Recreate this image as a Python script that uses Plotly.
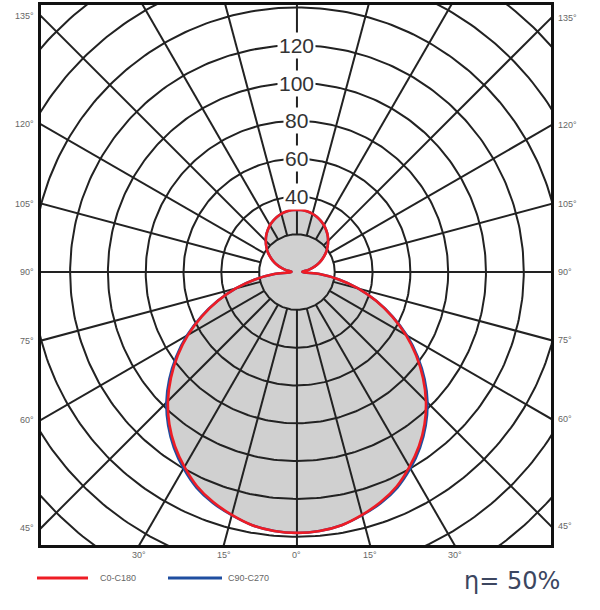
import numpy as np
import plotly.graph_objects as go

# ---------------- data ----------------
gamma = list(range(0, 181, 5))  # degrees from nadir
c0_c180 = [138, 137.5, 136, 133, 129.5, 125, 119, 112.5, 105, 96.5, 87, 77, 66.5, 55.5, 44.5, 33.5, 22.5, 12, 3,
           3, 5.8, 8.5, 11.3, 14, 16.5, 19, 21.2, 23.3, 25.3, 27, 28.6, 29.9, 31, 31.9, 32.5, 32.9, 33]
c90_c270 = [138, 137.5, 136, 133.2, 130, 125.8, 120, 113.5, 106, 97.7, 88.2, 78, 67.3, 56, 44.8, 33.7, 22.6, 12, 3,
            3, 5.8, 8.5, 11.3, 14, 16.5, 19, 21.2, 23.3, 25.3, 27, 28.6, 29.9, 31, 31.9, 32.5, 32.9, 33]
ring_values = [20, 40, 60, 80, 100, 120, 140, 160, 180]
ring_labels = [40, 60, 80, 100, 120]
spoke_angles = list(range(0, 360, 15))
side_labels = [45, 60, 75, 90, 105, 120, 135]
bottom_labels = [0, 15, 30]
legend_names = ["C0-C180", "C90-C270"]
efficiency = "η= 50%"

RED = "#ee1c25"
BLUE = "#1f4ea0"
GRID = "#222222"
FILL = "#d0d0d0"

XMIN, XMAX = -135.4, 134.4
YMIN, YMAX = -144.4, 141.3

L, R, T, B = 41, 49, 5, 65
W, H = 600, 610
PW, PH = W - L - R, H - T - B


def px(xp):
    return (xp - L) / PW


def py(yp):
    return (H - B - yp) / PH


def closed_curve(vals):
    g = np.radians(np.array(gamma, dtype=float))
    r = np.array(vals, dtype=float)
    xr, yr = r * np.sin(g), -r * np.cos(g)
    xs = np.concatenate([xr, -xr[::-1]])
    ys = np.concatenate([yr, yr[::-1]])
    return xs, ys


fig = go.Figure()

fx, fy = closed_curve(c0_c180)
fx2, fy2 = closed_curve(c90_c270)
fig.add_trace(go.Scatter(x=fx2, y=fy2, fill="toself", fillcolor=FILL, mode="none",
                         line=dict(shape="spline", smoothing=0.8),
                         hoverinfo="skip", showlegend=False))

# grid
gx, gy = [], []
t = np.linspace(0, 2 * np.pi, 361)
for rv in ring_values:
    gx += list(rv * np.cos(t)) + [None]
    gy += list(rv * np.sin(t)) + [None]
for a in spoke_angles:
    ar = np.radians(a)
    gx += [20 * np.sin(ar), 260 * np.sin(ar), None]
    gy += [-20 * np.cos(ar), -260 * np.cos(ar), None]
fig.add_trace(go.Scatter(x=gx, y=gy, mode="lines", line=dict(color=GRID, width=2),
                         hoverinfo="skip", showlegend=False))

# curves
fig.add_trace(go.Scatter(x=fx2, y=fy2, mode="lines",
                         line=dict(color=BLUE, width=2.5, shape="spline", smoothing=0.8),
                         name=legend_names[1], showlegend=False))
fig.add_trace(go.Scatter(x=fx, y=fy, mode="lines",
                         line=dict(color=RED, width=2.6, shape="spline", smoothing=0.8),
                         name=legend_names[0], showlegend=False))

ann = []
for rv in ring_labels:
    ann.append(dict(x=0, y=rv, text=str(rv), showarrow=False, bgcolor="white",
                    font=dict(family="Liberation Sans", size=21, color="#333"),
                    xanchor="center", yanchor="middle", borderpad=1))
small = dict(family="Liberation Sans", size=9, color="#666")
for a in side_labels:
    ar = np.radians(a)
    yl = -abs(XMIN) * np.cos(ar) / np.sin(ar)
    ann.append(dict(x=XMIN, y=yl, text=f"{a}°", showarrow=False, xanchor="right", xshift=-5, font=small))
    yr_ = -abs(XMAX) * np.cos(ar) / np.sin(ar)
    ann.append(dict(x=XMAX, y=yr_, text=f"{a}°", showarrow=False, xanchor="left", xshift=5, font=small))
for a in bottom_labels:
    xb = abs(YMIN) * np.tan(np.radians(a))
    for s in ([1] if a == 0 else [-1, 1]):
        ann.append(dict(x=s * xb, y=YMIN, text=f"{a}°", showarrow=False, yanchor="top", yshift=-3, font=small))

# legend (custom)
ann.append(dict(x=px(98), y=py(578), xref="paper", yref="paper", text=legend_names[0],
                showarrow=False, xanchor="left", yanchor="middle", font=small))
ann.append(dict(x=px(226), y=py(578), xref="paper", yref="paper", text=legend_names[1],
                showarrow=False, xanchor="left", yanchor="middle", font=small))
ann.append(dict(x=px(562), y=py(581), xref="paper", yref="paper", text=efficiency,
                showarrow=False, xanchor="right", yanchor="middle",
                font=dict(family="DejaVu Sans", size=24, color="#3c4660")))

shapes = [
    dict(type="line", xref="paper", yref="paper", x0=px(37), x1=px(88), y0=py(578), y1=py(578),
         line=dict(color=RED, width=3)),
    dict(type="line", xref="paper", yref="paper", x0=px(168), x1=px(222), y0=py(578), y1=py(578),
         line=dict(color=BLUE, width=3)),
]

fig.update_layout(
    width=W, height=H,
    margin=dict(l=L, r=R, t=T, b=B, autoexpand=False),
    paper_bgcolor="white", plot_bgcolor="white",
    showlegend=False,
    annotations=ann, shapes=shapes,
    xaxis=dict(range=[XMIN, XMAX], showgrid=False, zeroline=False, showticklabels=False, ticks="",
               showline=True, mirror=True, linecolor="#111", linewidth=3, fixedrange=True),
    yaxis=dict(range=[YMIN, YMAX], showgrid=False, zeroline=False, showticklabels=False, ticks="",
               showline=True, mirror=True, linecolor="#111", linewidth=3, fixedrange=True),
)

fig.write_html("out.html")
